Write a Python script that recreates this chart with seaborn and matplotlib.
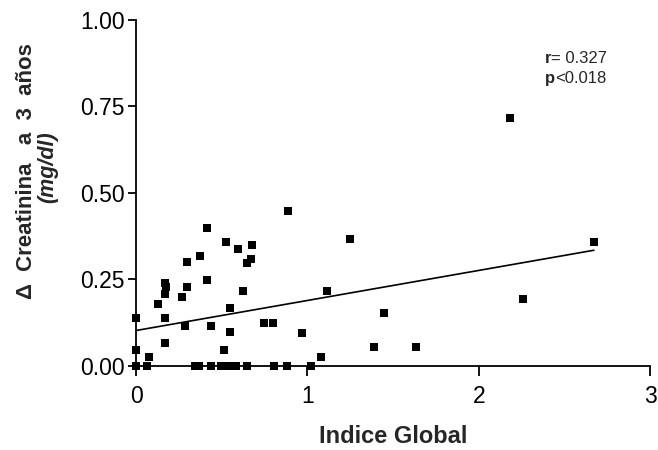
import numpy as np
import pandas as pd
import matplotlib
matplotlib.use("Agg")
import matplotlib.pyplot as plt
import seaborn as sns

# values
indice_global = [0, 0, 0, 0.062, 0.078, 0.127, 0.169, 0.173, 0.169, 0.169, 0.169,
                 0.267, 0.30, 0.30, 0.286, 0.376, 0.416, 0.416, 0.436, 0.525, 0.549,
                 0.549, 0.516, 0.597, 0.627, 0.646, 0.669, 0.679, 0.745, 0.798, 0.889,
                 0.967, 0.344, 0.368, 0.436, 0.494, 0.520, 0.549, 0.584, 0.646, 0.806,
                 0.88, 1.02, 1.249, 1.113, 1.45, 1.391, 1.631, 1.08, 2.183, 2.672, 2.257]
delta_creat = [0.138, 0.046, 0, 0, 0.027, 0.178, 0.239, 0.227, 0.208, 0.138, 0.067,
               0.199, 0.30, 0.229, 0.117, 0.319, 0.399, 0.249, 0.117, 0.359, 0.167,
               0.097, 0.046, 0.339, 0.217, 0.299, 0.308, 0.349, 0.125, 0.125, 0.448,
               0.096, 0, 0, 0, 0, 0, 0, 0, 0, 0,
               0, 0, 0.367, 0.217, 0.154, 0.054, 0.054, 0.025, 0.716, 0.357, 0.195]
x_ticks = [0, 1, 2, 3]
y_ticks = [0.00, 0.25, 0.50, 0.75, 1.00]
stats_r = "0.327"
stats_p = "0.018"

df = pd.DataFrame({'Indice': indice_global, 'Creat': delta_creat})

sns.set_style("ticks")
plt.rcParams['font.family'] = ['Liberation Sans', 'DejaVu Sans']

fig = plt.figure(figsize=(6.58, 4.5), dpi=100)
ax = fig.add_axes([0.2067, 0.1867, 0.7813, 0.7689])

sns.regplot(data=df, x='Indice', y='Creat', ax=ax, ci=None, truncate=True,
            marker='s', color='black',
            scatter_kws={'s': 36, 'clip_on': False, 'zorder': 3, 'linewidths': 0,
                         'alpha': 1},
            line_kws={'lw': 1.2, 'color': 'black'})

ax.set_xlim(0, 3)
ax.set_ylim(0, 1)
ax.set_xticks(x_ticks)
ax.set_xticklabels([str(t) for t in x_ticks])
ax.set_yticks(y_ticks)
ax.set_yticklabels([f"{t:.2f}" for t in y_ticks])
ax.tick_params(axis='both', labelsize=16.5, width=1.3, colors='black', direction='out')
ax.tick_params(axis='x', length=7, pad=7)
ax.tick_params(axis='y', length=6, pad=2)
sns.despine(ax=ax)
for sp in ['left', 'bottom']:
    ax.spines[sp].set_linewidth(1.3)
    ax.spines[sp].set_color('black')

ax.set_xlabel('Indice Global', fontsize=17, fontweight='bold', labelpad=12)
ax.set_ylabel('')
fig.text(0.040, 0.620, 'Δ  Creatinina   a  3  años', rotation=90, fontsize=16,
         fontweight='bold', ha='center', va='center')
fig.text(0.073, 0.629, '(mg/dl)', rotation=90, fontsize=15.5, fontweight='bold',
         fontstyle='italic', ha='center', va='center')

fig.text(0.828, 0.870, 'r', fontsize=12, fontweight='bold', ha='left', va='center')
fig.text(0.838, 0.870, '= ' + stats_r, fontsize=12, ha='left', va='center')
fig.text(0.828, 0.826, 'p', fontsize=12, fontweight='bold', ha='left', va='center')
fig.text(0.8435, 0.826, '<' + stats_p, fontsize=12, ha='left', va='center')

fig.savefig('out.png', dpi=100)
